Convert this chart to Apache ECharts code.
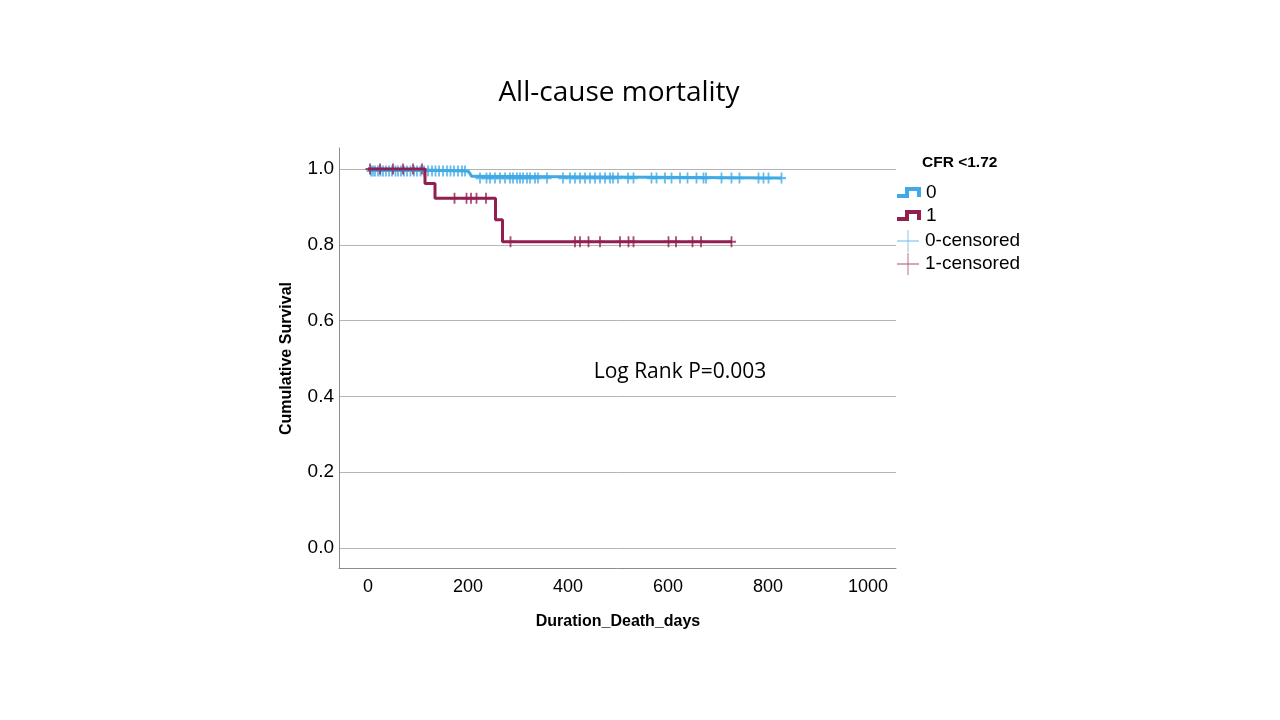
<!DOCTYPE html>
<html>
<head>
<meta charset="utf-8">
<script src="https://cdn.jsdelivr.net/npm/echarts@6/dist/echarts.min.js"></script>
<style>html,body{margin:0;padding:0;background:#fff}#c{width:1280px;height:720px}</style>
</head>
<body>
<div id="c"></div>
<script>
// ---- data ----
var xTicks = [0, 200, 400, 600, 800, 1000];
var yTicks = [0.0, 0.2, 0.4, 0.6, 0.8, 1.0];

// Group 0 (blue) step curve
var g0Times  = [0, 12, 198, 203, 207, 212, 827];
var g0Surv   = [1.0, 0.995, 0.990, 0.986, 0.981, 0.976, 0.976];
// Group 0 censored times, by level
var g0CensEarly = [6, 10, 14, 20, 25, 30, 36, 42, 48, 55, 60, 66, 72, 78, 85, 92, 98, 105, 112, 120, 128, 135, 142, 150, 158, 165, 172, 180, 188, 194];
var g0CensEarlyLevel = 0.995;
var g0CensLate = [224, 237, 244, 254, 264, 274, 284, 290, 298, 304, 310, 318, 324, 334, 340, 358, 390, 404, 414, 424, 434, 444, 454, 464, 474, 484, 490, 500, 520, 531, 567, 577, 594, 607, 624, 639, 657, 671, 676, 707, 727, 743, 781, 791, 801, 827];
var g0CensLateLevel = 0.976;

// Group 1 (maroon) step curve
var g1Times = [0, 114, 134, 255, 269, 728];
var g1Surv  = [1.0, 0.962, 0.923, 0.866, 0.808, 0.808];
var g1CensA = [4, 24, 50, 70, 90, 108];      var g1CensALevel = 1.0;
var g1CensB = [173, 197, 206, 217, 236];      var g1CensBLevel = 0.923;
var g1CensC = [285, 414, 424, 441, 464, 504, 521, 531, 601, 616, 649, 666, 727]; var g1CensCLevel = 0.808;

var blue = '#3FAAE6';
var maroon = '#931E50';

function pairs(t, s) { return t.map(function (v, i) { return [v, s[i]]; }); }
function cens(t, lvl) { return t.map(function (v) { return [v, lvl]; }); }

var tickSym = 'path://M4,0h2v4h4v2h-4v4h-2v-4h-4v-2h4z';
var stepIcon = 'path://M0,9L8,9L8,2L24,2L24,12L20,12L20,6L12,6L12,13L0,13Z';
var crossIcon = 'path://M10.6,0h0.8v10.6h10.6v0.8h-10.6v10.6h-0.8v-10.6h-10.6v-0.8h10.6z';

var chart = echarts.init(document.getElementById('c'));
var font = 'Liberation Sans';
chart.setOption({
  animation: false,
  backgroundColor: '#fff',
  textStyle: { fontFamily: font },
  grid: [
    { left: 339, top: 148, width: 557, height: 420 },
    { left: 339, top: 169, width: 557, height: 379 },
    { left: 368, top: 148, width: 500, height: 420 }
  ],
  xAxis: [
    { gridIndex: 0, type: 'value', min: -58, max: 1056,
      axisLine: { show: true, onZero: false, lineStyle: { color: '#8c8c8c', width: 1 } },
      axisTick: { show: false }, axisLabel: { show: false }, splitLine: { show: false } },
    { gridIndex: 1, type: 'value', min: -58, max: 1056, show: false },
    { gridIndex: 2, type: 'value', min: xTicks[0], max: xTicks[xTicks.length - 1], interval: 200,
      axisLine: { show: false }, axisTick: { show: false }, splitLine: { show: false },
      axisLabel: { color: '#000', fontSize: 18, margin: 10, formatter: function (v) { return String(v); } },
      name: 'Duration_Death_days', nameLocation: 'middle', nameGap: 46,
      nameTextStyle: { color: '#000', fontSize: 16, fontWeight: 'bold' } }
  ],
  yAxis: [
    { gridIndex: 0, type: 'value', min: -0.0528, max: 1.0554,
      axisLine: { show: true, onZero: false, lineStyle: { color: '#8c8c8c', width: 1 } },
      axisTick: { show: false }, axisLabel: { show: false }, splitLine: { show: false } },
    { gridIndex: 1, type: 'value', min: yTicks[0], max: yTicks[yTicks.length - 1], interval: 0.2,
      axisLine: { show: false }, axisTick: { show: false },
      splitLine: { show: true, lineStyle: { color: '#b4b4b4', width: 1 } },
      axisLabel: { color: '#000', fontSize: 19, margin: 5, formatter: function (v) { return v.toFixed(1); } },
      name: 'Cumulative Survival', nameLocation: 'middle', nameGap: 44,
      nameTextStyle: { color: '#000', fontSize: 16, fontWeight: 'bold' } },
    { gridIndex: 2, type: 'value', show: false }
  ],
  legend: [
    { left: 897, top: 183, padding: 0, orient: 'vertical', itemWidth: 24, itemHeight: 14, itemGap: 4,
      textStyle: { color: '#000', fontSize: 19 },
      data: [{ name: '0', icon: stepIcon }, { name: '1', icon: stepIcon }] },
    { left: 897, top: 230, padding: 0, orient: 'vertical', itemWidth: 24, itemHeight: 22, itemGap: 1,
      textStyle: { color: '#000', fontSize: 19 },
      data: [{ name: '0-censored', icon: crossIcon }, { name: '1-censored', icon: crossIcon }] }
  ],
  graphic: [
    { type: 'text', x: 619, y: 93, style: { text: 'All-cause mortality', fontFamily: 'Open Sans', fontSize: 28, fill: '#000', textAlign: 'center', textVerticalAlign: 'middle' } },
    { type: 'text', x: 680, y: 372, style: { text: 'Log Rank P=0.003', fontFamily: 'Open Sans', fontSize: 21, fill: '#000', textAlign: 'center', textVerticalAlign: 'middle' } },
    { type: 'text', x: 922, y: 163, style: { text: 'CFR <1.72', fontFamily: font, fontSize: 15.5, fontWeight: 'bold', fill: '#000', textAlign: 'left', textVerticalAlign: 'middle' } }
  ],
  series: [
    { name: '0', type: 'line', step: 'end', xAxisIndex: 0, yAxisIndex: 0, data: pairs(g0Times, g0Surv),
      showSymbol: false, lineStyle: { color: blue, width: 3 }, itemStyle: { color: blue }, clip: false },
    { name: '1', type: 'line', step: 'end', xAxisIndex: 0, yAxisIndex: 0, data: pairs(g1Times, g1Surv),
      showSymbol: false, lineStyle: { color: maroon, width: 3 }, itemStyle: { color: maroon }, clip: false },
    { name: '0-censored', type: 'scatter', xAxisIndex: 0, yAxisIndex: 0,
      data: cens(g0CensEarly, g0CensEarlyLevel).concat(cens(g0CensLate, g0CensLateLevel)),
      symbol: tickSym, symbolSize: [9, 11], itemStyle: { color: blue }, clip: false },
    { name: '1-censored', type: 'scatter', xAxisIndex: 0, yAxisIndex: 0,
      data: cens(g1CensA, g1CensALevel).concat(cens(g1CensB, g1CensBLevel)).concat(cens(g1CensC, g1CensCLevel)),
      symbol: tickSym, symbolSize: [9, 11], itemStyle: { color: maroon }, clip: false }
  ]
});
</script>
</body>
</html>
